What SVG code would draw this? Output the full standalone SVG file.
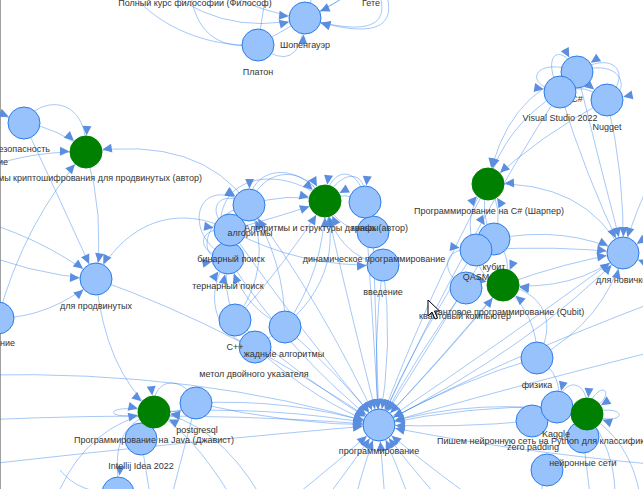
<svg xmlns="http://www.w3.org/2000/svg" width="643" height="489" viewBox="0 0 643 489">
<style>
.e{fill:none;stroke:#2b7ce9;stroke-opacity:0.42;stroke-width:1}
.a{marker-end:url(#arr)}
.b{fill:#97c2fc;stroke:#2b7ce9;stroke-width:1}
.g{fill:#008000;stroke:#008000;stroke-width:1}
text{font-family:"Liberation Sans",Arial,sans-serif;font-size:9px;fill:#343434;text-anchor:middle}
</style>
<defs>
<marker id="arr" viewBox="0 0 30 12" refX="30" refY="6" markerWidth="30" markerHeight="12" markerUnits="userSpaceOnUse" orient="auto">
<path d="M4,1.5 L13.5,6 L4,10.5 Z" fill="#5b8ede"/>
</marker>
</defs>
<rect width="643" height="489" fill="#ffffff"/>
<line x1="0.5" y1="0" x2="0.5" y2="489" stroke="#a0a0a0" stroke-width="1"/>
<g id="edges">
<path class="e a" d="M195,-25 Q250,12 305,18"/>
<path class="e a" d="M150,-25 Q215,40 305,18"/>
<path class="e a" d="M258,45 Q300,78 305,18"/>
<path class="e" d="M258,45 L305,18"/>
<path class="e" d="M258,45 L268,-20"/>
<path class="e" d="M258,45 C215,50 195,30 190,-10"/>
<path class="e" d="M258,45 C200,48 150,20 130,-10"/>
<path class="e a" d="M372,-22 Q345,0 305,18"/>
<path class="e a" d="M372,-22 C395,20 380,40 305,18"/>
<path class="e a" d="M380,-22 C405,30 375,40 305,18"/>
<path class="e" d="M305,18 L318,-20"/>
<path class="e" d="M305,18 Q340,5 360,-20"/>
<path class="e a" d="M24,123 C40,95 88,95 86,152"/>
<path class="e a" d="M24,123 Q60,128 86,152"/>
<path class="e a" d="M-30,110 Q0,113 24,123"/>
<path class="e a" d="M-40,178 Q20,150 86,152"/>
<path class="e a" d="M249,205 Q200,135 86,152"/>
<path class="e a" d="M24,123 Q60,200 96,279"/>
<path class="e a" d="M86,152 Q105,215 96,279"/>
<path class="e a" d="M-40,215 Q40,235 96,279"/>
<path class="e a" d="M-40,245 Q30,275 96,279"/>
<path class="e a" d="M-2,318 Q50,318 96,279"/>
<path class="e a" d="M-2,318 Q25,220 86,152"/>
<path class="e a" d="M96,279 Q105,370 154,412"/>
<path class="e a" d="M96,279 Q240,330 379,425"/>
<path class="e a" d="M230,230 C170,200 120,230 96,279"/>
<path class="e a" d="M249,205 Q287,192 325,201"/>
<path class="e a" d="M230,230 Q285,215 325,201"/>
<path class="e a" d="M228,258 C195,175 280,160 325,201"/>
<path class="e a" d="M249,205 C265,165 305,165 325,201"/>
<path class="e a" d="M235,320 Q285,265 325,201"/>
<path class="e a" d="M285,327 Q325,270 325,201"/>
<path class="e a" d="M255,347 Q350,290 325,201"/>
<path class="e a" d="M365,202 Q345,190 325,201"/>
<path class="e a" d="M373,232 Q340,232 325,201"/>
<path class="e a" d="M383,265 Q335,255 325,201"/>
<path class="e a" d="M365,202 C360,165 330,165 325,201"/>
<path class="e a" d="M325,201 C340,168 368,168 365,202"/>
<path class="e a" d="M230,230 C205,215 215,185 249,205"/>
<path class="e a" d="M228,258 C180,235 195,170 249,205"/>
<path class="e a" d="M325,201 C300,160 250,165 249,205"/>
<path class="e a" d="M235,320 Q275,265 249,205"/>
<path class="e a" d="M285,327 Q285,260 249,205"/>
<path class="e a" d="M228,258 C195,255 195,225 230,230"/>
<path class="e a" d="M249,205 C200,215 195,265 228,258"/>
<path class="e a" d="M235,320 Q222,290 228,258"/>
<path class="e a" d="M255,347 C210,335 205,290 228,258"/>
<path class="e a" d="M285,327 C250,310 240,290 228,258"/>
<path class="e a" d="M230,230 Q300,268 383,265"/>
<path class="e a" d="M249,205 Q320,300 379,425"/>
<path class="e a" d="M230,230 Q300,330 379,425"/>
<path class="e a" d="M228,258 Q290,355 379,425"/>
<path class="e a" d="M235,320 Q310,385 379,425"/>
<path class="e a" d="M255,347 Q320,405 379,425"/>
<path class="e a" d="M285,327 Q345,380 379,425"/>
<path class="e a" d="M325,201 Q350,310 379,425"/>
<path class="e a" d="M365,202 Q372,310 379,425"/>
<path class="e a" d="M373,232 L379,425"/>
<path class="e a" d="M383,265 Q394,345 379,425"/>
<path class="e a" d="M383,265 Q372,345 379,425"/>
<path class="e a" d="M154,412 Q270,405 379,425"/>
<path class="e a" d="M196,403 Q290,398 379,425"/>
<path class="e a" d="M196,403 Q290,425 379,425"/>
<path class="e a" d="M-20,375 Q200,370 379,425"/>
<path class="e a" d="M-20,420 Q200,410 379,425"/>
<path class="e a" d="M-20,465 Q200,440 379,425"/>
<path class="e a" d="M290,500 Q340,460 379,425"/>
<path class="e a" d="M325,500 Q355,460 379,425"/>
<path class="e a" d="M355,500 Q365,460 379,425"/>
<path class="e a" d="M385,500 L379,425"/>
<path class="e a" d="M410,500 Q395,460 379,425"/>
<path class="e a" d="M440,500 Q405,460 379,425"/>
<path class="e a" d="M475,500 Q420,460 379,425"/>
<path class="e a" d="M660,300 Q500,360 379,425"/>
<path class="e a" d="M660,350 Q500,390 379,425"/>
<path class="e a" d="M660,465 Q500,450 379,425"/>
<path class="e a" d="M488,184 Q430,290 379,425"/>
<path class="e a" d="M466,288 Q420,350 379,425"/>
<path class="e a" d="M503,285 Q440,360 379,425"/>
<path class="e a" d="M476,250 Q420,330 379,425"/>
<path class="e a" d="M494,239 Q440,330 379,425"/>
<path class="e a" d="M537,358 Q460,380 379,425"/>
<path class="e a" d="M560,92 Q470,230 379,425"/>
<path class="e a" d="M557,407 Q470,405 379,425"/>
<path class="e a" d="M532,421 Q460,428 379,425"/>
<path class="e a" d="M379,425 Q480,395 587,414"/>
<path class="e a" d="M379,425 Q520,330 623,253"/>
<path class="e a" d="M379,425 Q535,345 623,253"/>
<path class="e a" d="M379,425 Q455,345 503,285"/>
<path class="e a" d="M196,403 Q178,415 154,412"/>
<path class="e a" d="M154,412 C100,425 100,400 154,412"/>
<path class="e a" d="M196,403 C185,375 150,375 154,412"/>
<path class="e a" d="M60,489 Q90,425 154,412"/>
<path class="e a" d="M154,412 C105,430 120,470 118,492"/>
<path class="e a" d="M60,470 Q80,495 118,492"/>
<path class="e a" d="M230,495 Q190,430 154,412"/>
<path class="e a" d="M260,495 Q215,420 154,412"/>
<path class="e" d="M196,403 L172,495"/>
<path class="e" d="M141,439 L150,495"/>
<path class="e a" d="M560,92 C540,55 560,40 577,72"/>
<path class="e a" d="M577,72 C535,55 520,85 560,92"/>
<path class="e a" d="M607,100 C635,70 610,50 577,72"/>
<path class="e a" d="M577,72 C625,55 632,95 607,100"/>
<path class="e a" d="M560,92 Q585,82 607,100"/>
<path class="e a" d="M577,72 Q505,95 488,184"/>
<path class="e a" d="M560,92 Q505,125 488,184"/>
<path class="e a" d="M607,100 Q540,135 488,184"/>
<path class="e a" d="M577,72 Q600,165 623,253"/>
<path class="e a" d="M560,92 Q585,175 623,253"/>
<path class="e a" d="M607,100 Q625,175 623,253"/>
<path class="e a" d="M660,160 Q635,210 623,253"/>
<path class="e a" d="M680,225 Q650,235 623,253"/>
<path class="e a" d="M680,280 Q650,265 623,253"/>
<path class="e a" d="M623,253 Q585,180 488,184"/>
<path class="e a" d="M488,184 Q478,215 494,239"/>
<path class="e a" d="M494,239 Q505,210 488,184"/>
<path class="e a" d="M476,250 Q460,215 488,184"/>
<path class="e a" d="M494,239 Q565,225 623,253"/>
<path class="e a" d="M476,250 Q560,245 623,253"/>
<path class="e a" d="M503,285 Q565,262 623,253"/>
<path class="e a" d="M623,253 Q575,292 503,285"/>
<path class="e a" d="M494,239 Q515,258 503,285"/>
<path class="e a" d="M476,250 Q478,280 503,285"/>
<path class="e a" d="M537,358 Q538,315 503,285"/>
<path class="e a" d="M537,358 C560,320 540,290 503,285"/>
<path class="e a" d="M537,358 Q605,320 623,253"/>
<path class="e a" d="M466,288 C440,275 440,245 476,250"/>
<path class="e a" d="M557,407 C560,378 590,375 587,414"/>
<path class="e a" d="M587,414 C595,375 625,390 587,414"/>
<path class="e a" d="M587,414 C630,400 630,430 587,414"/>
<path class="e a" d="M537,358 Q565,375 557,407"/>
<path class="e" d="M587,414 Q630,440 640,495"/>
<path class="e" d="M583,437 L590,495"/>
<path class="e" d="M547,470 L540,495"/>
<path class="e" d="M587,414 Q615,450 615,495"/>
</g>
<g id="n_fil"><text x="195" y="6">Полный курс философии (Философ)</text></g>
<g id="n_gete"><text x="371" y="6">Гете</text></g>
<g id="n_sch"><circle class="b" cx="305" cy="18" r="16"/><text x="305" y="48">Шопенгауэр</text></g>
<g id="n_plat"><circle class="b" cx="258" cy="45" r="16"/><text x="258" y="75">Платон</text></g>
<g id="n_bez"><circle class="b" cx="24" cy="123" r="16"/><text x="50" y="152" style="text-anchor:end">безопасность</text></g>
<g id="n_ie"><text x="8" y="165" style="text-anchor:end">ие</text></g>
<g id="n_cry"><circle class="g" cx="86" cy="152" r="16"/><text x="202" y="181" style="text-anchor:end">Алгоритмы криптошифрования для продвинутых (автор)</text></g>
<g id="n_prod"><circle class="b" cx="96" cy="279" r="16"/><text x="96" y="309">для продвинутых</text></g>
<g id="n_lb"><circle class="b" cx="-2" cy="318" r="16"/><text x="15" y="346" style="text-anchor:end">ние</text></g>
<g id="n_ter"><circle class="b" cx="228" cy="258" r="16"/><text x="228" y="289">тернарный поиск</text></g>
<g id="n_bin"><circle class="b" cx="230" cy="230" r="16"/><text x="231" y="262">бинарный поиск</text></g>
<g id="n_alg1"><circle class="b" cx="249" cy="205" r="16"/><text x="250" y="236">алгоритмы</text></g>
<g id="n_vv"><circle class="b" cx="383" cy="265" r="16"/><text x="383" y="295">введение</text></g>
<g id="n_dyn"><circle class="b" cx="373" cy="232" r="16"/><text x="374" y="262">динамическое программирование</text></g>
<g id="n_gr"><circle class="b" cx="365" cy="202" r="16"/><text x="365" y="231">графы</text></g>
<g id="n_as"><circle class="g" cx="325" cy="201" r="16"/><text x="326" y="231">Алгоритмы и структуры данных (автор)</text></g>
<g id="n_ptr"><circle class="b" cx="255" cy="347" r="16"/><text x="254" y="377">метол двойного указателя</text></g>
<g id="n_cpp"><circle class="b" cx="235" cy="320" r="16"/><text x="235" y="350">C++</text></g>
<g id="n_zh"><circle class="b" cx="285" cy="327" r="16"/><text x="284" y="357">жадные алгоритмы</text></g>
<g id="n_prog"><circle class="b" cx="379" cy="425" r="16"/><text x="379" y="454">программирование</text></g>
<g id="n_cs"><circle class="b" cx="577" cy="72" r="16"/><text x="577" y="102">C#</text></g>
<g id="n_vs"><circle class="b" cx="560" cy="92" r="16"/><text x="560" y="121">Visual Studio 2022</text></g>
<g id="n_nug"><circle class="b" cx="607" cy="100" r="16"/><text x="607" y="130">Nugget</text></g>
<g id="n_pcs"><circle class="g" cx="488" cy="184" r="16"/><text x="489" y="214">Программирование на C# (Шарпер)</text></g>
<g id="n_nov"><circle class="b" cx="623" cy="253" r="16"/><text x="624" y="283">для новичков</text></g>
<g id="n_qc"><circle class="b" cx="466" cy="288" r="16"/><text x="465" y="319">квантовый компьютер</text></g>
<g id="n_qp"><circle class="g" cx="503" cy="285" r="16"/><text x="506" y="315">Квантовое программирование (Qubit)</text></g>
<g id="n_qub"><circle class="b" cx="494" cy="239" r="16"/><text x="494" y="270">кубит</text></g>
<g id="n_qasm"><circle class="b" cx="476" cy="250" r="16"/><text x="476" y="280">QASM</text></g>
<g id="n_phy"><circle class="b" cx="537" cy="358" r="16"/><text x="537" y="388">физика</text></g>
<g id="n_zp"><circle class="b" cx="532" cy="421" r="16"/><text x="533" y="450">zero padding</text></g>
<g id="n_b2"><circle class="b" cx="547" cy="470" r="16"/></g>
<g id="n_ns"><circle class="b" cx="583" cy="437" r="16"/><text x="583" y="466">нейронные сети</text></g>
<g id="n_kag"><circle class="b" cx="557" cy="407" r="16"/><text x="556" y="437">Kaggle</text></g>
<g id="n_nn"><circle class="g" cx="587" cy="414" r="16"/><text x="437" y="444" style="text-anchor:start">Пишем нейронную сеть на Python для классификации</text></g>
<g id="n_ij"><circle class="b" cx="141" cy="439" r="16"/><text x="141" y="469">Intellij Idea 2022</text></g>
<g id="n_b3"><circle class="b" cx="118" cy="493" r="16"/></g>
<g id="n_java"><circle class="g" cx="154" cy="412" r="16"/><text x="154" y="443">Программирование на Java (Джавист)</text></g>
<g id="n_pg"><circle class="b" cx="196" cy="403" r="16"/><text x="197" y="433">postgresql</text></g>
<path d="M428,300 L428,316 L432,312 L435,319 L437.5,318 L434.5,311 L439.5,311 Z" fill="#ffffff" stroke="#000000" stroke-width="1"/>
</svg>
